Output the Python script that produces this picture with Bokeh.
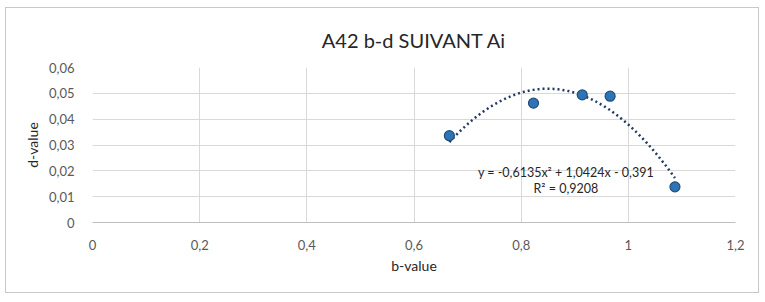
import numpy as np
from bokeh.plotting import figure
from bokeh.models import Label, FixedTicker, CustomJSTickFormatter, ColumnDataSource
from bokeh.embed import file_html
from bokeh.resources import INLINE

# ---- data ----
title_text = "A42 b-d SUIVANT Ai"
x_label = "b-value"
y_label = "d-value"
b_values = [0.666, 0.823, 0.914, 0.966, 1.087]
d_values = [0.0336, 0.0462, 0.0494, 0.0489, 0.0138]
poly_coefs = [-0.6135, 1.0424, -0.391]   # trendline from Excel label
equation_text = "y = -0,6135x\u00b2 + 1,0424x - 0,391"
r2_text = "R\u00b2 = 0,9208"
x_ticks = [0, 0.2, 0.4, 0.6, 0.8, 1.0, 1.2]
y_ticks = [0, 0.01, 0.02, 0.03, 0.04, 0.05, 0.06]

FONT = "Lato"
TXT = "#595959"
DARK = "#262626"

p = figure(width=754, height=286, x_range=(0, 1.2), y_range=(0, 0.06),
           output_backend="svg", toolbar_location=None,
           min_border_left=86, min_border_right=25, min_border_top=59,
           min_border_bottom=72, outline_line_color=None,
           styles={"margin-left": "5px", "margin-top": "7px",
                   "border": "1px solid #c8c8c8"})

p.title.text = title_text
p.title.align = "center"
p.title.text_font = FONT
p.title.text_font_size = "20px"
p.title.text_font_style = "normal"
p.title.text_color = DARK
p.title.standoff = 32

# grid
p.xgrid.ticker = FixedTicker(ticks=x_ticks)
p.ygrid.ticker = FixedTicker(ticks=y_ticks)
p.xgrid.grid_line_color = "#d9d9d9"
p.ygrid.grid_line_color = "#d9d9d9"

fmt = CustomJSTickFormatter(code="return (tick == 0) ? '0' : String(Math.round(tick*100)/100).replace('.', ',');")
for ax, ticks in ((p.xaxis[0], x_ticks), (p.yaxis[0], y_ticks)):
    ax.ticker = FixedTicker(ticks=ticks)
    ax.formatter = fmt
    ax.major_tick_line_color = None
    ax.minor_tick_line_color = None
    ax.major_label_text_font = FONT
    ax.major_label_text_font_size = "13px"
    ax.major_label_text_color = TXT
    ax.axis_label_text_font = FONT
    ax.axis_label_text_font_size = "14px"
    ax.axis_label_text_font_style = "normal"
    ax.axis_label_text_color = DARK
p.xaxis.axis_label = x_label
p.yaxis.axis_label = y_label
p.xaxis.axis_line_color = "#bfbfbf"
p.yaxis.axis_line_color = None
p.xaxis.major_label_standoff = 11
p.yaxis.major_label_standoff = 12
p.xaxis.axis_label_standoff = 4
p.yaxis.axis_label_standoff = 5

# trendline
xs = np.linspace(min(b_values), max(b_values), 200)
ys = np.polyval(poly_coefs, xs)
p.line(xs, ys, line_color="#1f3864", line_width=2.5, line_dash="2 3")

# points
src = ColumnDataSource(dict(b=b_values, d=d_values))
p.scatter("b", "d", source=src, size=10, fill_color="#2e75b6",
          line_color="#1f4e79", line_width=1.2)

# trendline label
p.add_layout(Label(x=0.8835, y=0.0194, text=equation_text, text_font=FONT,
                   text_font_size="12.5px", text_color=DARK,
                   text_align="center", text_baseline="middle"))
p.add_layout(Label(x=0.8835, y=0.0132, text=r2_text, text_font=FONT,
                   text_font_size="12.5px", text_color=DARK,
                   text_align="center", text_baseline="middle"))

open("out.html", "w").write(file_html(p, INLINE))
